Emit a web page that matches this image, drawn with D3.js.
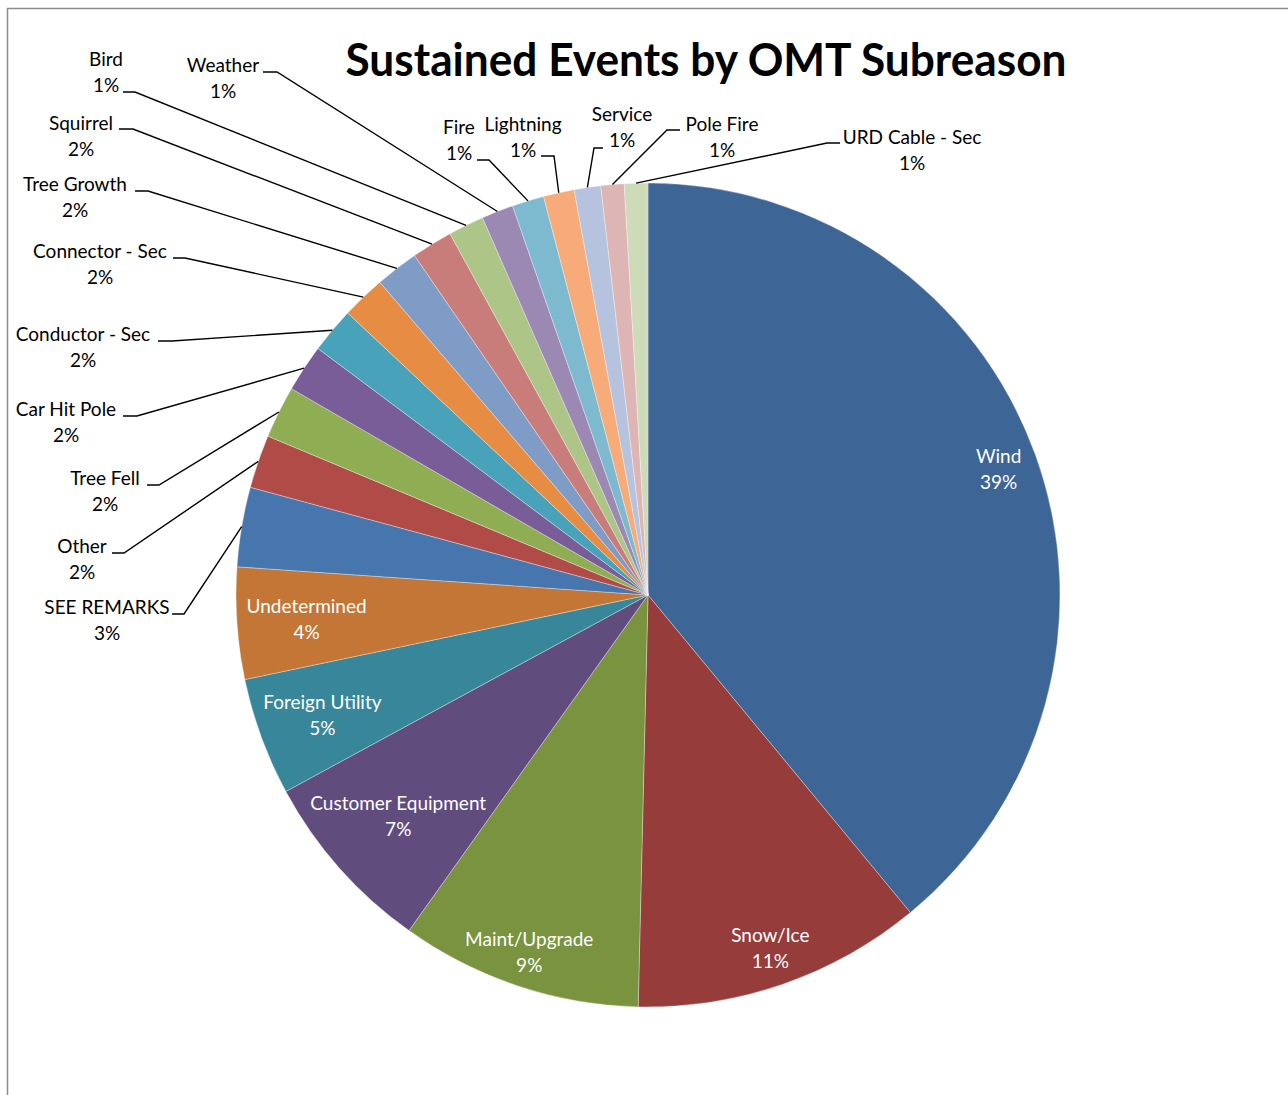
<!DOCTYPE html>
<html>
<head>
<meta charset="utf-8">
<script src="https://cdn.jsdelivr.net/npm/d3@7"></script>
<style>
  html, body { margin: 0; padding: 0; background: #fff; }
  svg { display: block; }
  text { font-family: Lato, "Open Sans", sans-serif; }
</style>
</head>
<body>
<svg id="chart" width="1288" height="1095"></svg>
<script>
// Share of sustained events per OMT subreason (percent), clockwise from 12 o'clock
const categories = [
  "Wind", "Snow/Ice", "Maint/Upgrade", "Customer Equipment", "Foreign Utility",
  "Undetermined", "SEE REMARKS", "Other", "Tree Fell", "Car Hit Pole",
  "Conductor - Sec", "Connector - Sec", "Tree Growth", "Squirrel", "Bird",
  "Weather", "Fire", "Lightning", "Service", "Pole Fire", "URD Cable - Sec"
];
const shares = [
  39.01, 11.37, 9.47, 7.24, 4.62,
  4.38, 3.12, 2.09, 2.05, 1.86,
  1.79, 1.72, 1.69, 1.61, 1.40,
  1.25, 1.25, 1.21, 1.04, 0.91, 0.92
];
const sliceColors = [
  "#3D6595", "#963C3A", "#79933F", "#614C7E", "#37869A",
  "#C37635", "#4775AE", "#B14B48", "#8FAD53", "#785D98",
  "#47A2BA", "#E68C43", "#7F9CC7", "#C97D7B", "#ADC586",
  "#9B89B3", "#7DBAD0", "#F7AB78", "#B6C3DE", "#DEB5B5", "#CEDBB9"
];
const chartTitle = "Sustained Events by OMT Subreason";

// Placement of the callout labels for the thin slices:
// x = text centre, y = first baseline, ax/ay = where the leader meets the label,
// ex = the elbow of the leader line
const calloutLayout = {
  "SEE REMARKS":     { x: 107, y: 614, ax: 172, ay: 614, ex: 184 },
  "Other":           { x: 82,  y: 553, ax: 112, ay: 553, ex: 124 },
  "Tree Fell":       { x: 105, y: 485, ax: 147, ay: 485, ex: 159 },
  "Car Hit Pole":    { x: 66,  y: 416, ax: 123, ay: 416, ex: 137 },
  "Conductor - Sec": { x: 83,  y: 341, ax: 158, ay: 341, ex: 172 },
  "Connector - Sec": { x: 100, y: 258, ax: 173, ay: 258, ex: 185 },
  "Tree Growth":     { x: 75,  y: 191, ax: 135, ay: 191, ex: 148 },
  "Squirrel":        { x: 81,  y: 130, ax: 119, ay: 129, ex: 133 },
  "Bird":            { x: 106, y: 66,  ax: 123, ay: 92,  ex: 135 },
  "Weather":         { x: 223, y: 72,  ax: 263, ay: 72,  ex: 277 },
  "Fire":            { x: 459, y: 134, ax: 477, ay: 160, ex: 489 },
  "Lightning":       { x: 523, y: 131, ax: 541, ay: 156, ex: 554 },
  "Service":         { x: 622, y: 121, ax: 603, ay: 148, ex: 594 },
  "Pole Fire":       { x: 722, y: 131, ax: 680, ay: 130, ex: 667 },
  "URD Cable - Sec": { x: 912, y: 144, ax: 840, ay: 143, ex: 827 }
};

const W = 1288, H = 1095;
const cx = 648, cy = 595, R = 412;
const fontSize = 19, lineGap = 26;

const svg = d3.select("#chart");

// Chart area frame
svg.append("path")
  .attr("d", `M7.5,${H} V8.5 H${W}`)
  .attr("fill", "none")
  .attr("stroke", "#8c8c8c")
  .attr("stroke-width", 1.5);

// Title
svg.append("text")
  .attr("x", 706)
  .attr("y", 76)
  .attr("text-anchor", "middle")
  .attr("font-size", 45)
  .attr("font-weight", 700)
  .attr("fill", "#000")
  .attr("textLength", 721)
  .attr("lengthAdjust", "spacingAndGlyphs")
  .text(chartTitle);

const data = categories.map((name, i) => ({ name, value: shares[i], color: sliceColors[i] }));
const total = d3.sum(shares);
const pct = v => Math.round(v / total * 100) + "%";

const pie = d3.pie().value(d => d.value).sort(null).startAngle(0).endAngle(2 * Math.PI);
const arcs = pie(data);

const arc = d3.arc().innerRadius(0).outerRadius(R);
const rimArc = d3.arc().innerRadius(R).outerRadius(R);

const g = svg.append("g").attr("transform", `translate(${cx},${cy})`);

g.selectAll("path.slice")
  .data(arcs)
  .join("path")
  .attr("class", "slice")
  .attr("d", arc)
  .attr("fill", d => d.data.color)
  .attr("stroke", "#ffffff")
  .attr("stroke-opacity", 0.55)
  .attr("stroke-width", 0.6);

// Labels inside the large slices: pushed out along the mid-angle as far
// as the text box still sits inside the rim
const inside = arcs.filter(d => !calloutLayout[d.data.name]);
inside.forEach(d => {
  const lines = [d.data.name, pct(d.data.value)];
  const t = g.append("text")
    .attr("text-anchor", "middle")
    .attr("font-size", fontSize)
    .attr("fill", "#ffffff");
  const spans = lines.map((s, i) => t.append("tspan").attr("x", 0).text(s));
  const widths = spans.map(s => s.node().getComputedTextLength());
  const mid = (d.startAngle + d.endAngle) / 2;
  const ux = Math.sin(mid), uy = -Math.cos(mid);
  const limit = R - 10;
  const fits = dist => {
    const px = ux * dist, py = uy * dist;
    return widths.every((w, i) => {
      const oy = (i - 0.5) * lineGap;
      const xs = [px - w / 2, px + w / 2], ys = [py + oy - 10, py + oy + 10];
      return xs.every(x => ys.every(y => Math.hypot(x, y) <= limit));
    });
  };
  let lo = 0, hi = R;
  for (let k = 0; k < 40; k++) {
    const m = (lo + hi) / 2;
    if (fits(m)) lo = m; else hi = m;
  }
  const px = ux * lo, py = uy * lo;
  spans.forEach((s, i) => s.attr("x", px).attr("y", py + (i - 0.5) * lineGap + 7));
});

// Callout labels with leader lines for the thin slices
const outside = arcs.filter(d => calloutLayout[d.data.name]);
outside.forEach(d => {
  const L = calloutLayout[d.data.name];
  const [rx, ry] = rimArc.centroid(d);
  svg.append("path")
    .attr("d", d3.line()([[cx + rx, cy + ry], [L.ex, L.ay], [L.ax, L.ay]]))
    .attr("fill", "none")
    .attr("stroke", "#000")
    .attr("stroke-width", 1.4);
  const t = svg.append("text")
    .attr("text-anchor", "middle")
    .attr("font-size", fontSize)
    .attr("fill", "#000");
  t.append("tspan").attr("x", L.x).attr("y", L.y).text(d.data.name);
  t.append("tspan").attr("x", L.x).attr("y", L.y + lineGap).text(pct(d.data.value));
});
</script>
</body>
</html>
